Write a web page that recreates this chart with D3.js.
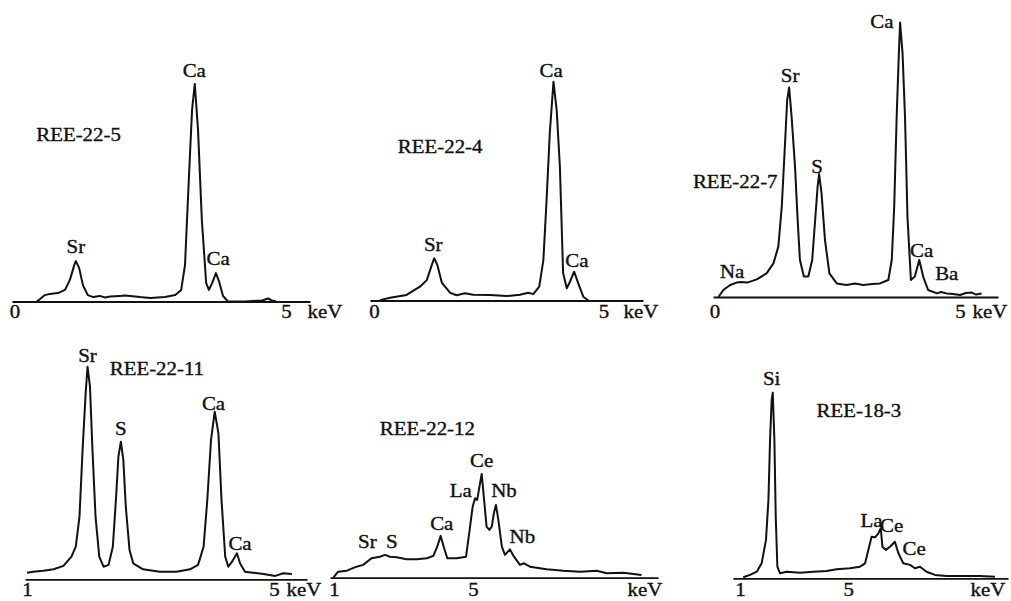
<!DOCTYPE html>
<html>
<head>
<meta charset="utf-8">
<script src="https://cdn.jsdelivr.net/npm/d3@7/dist/d3.min.js"></script>
<style>
  body { margin: 0; background: #fff; }
  svg { display: block; }
  text { font-family: "Liberation Serif", "Times New Roman", serif; font-size: 18px; fill: #111; stroke: #111; stroke-width: 0.35px; }
</style>
</head>
<body>
<svg id="chart" width="1011" height="601"></svg>
<script>
// EDS spectra, [keV, counts (arb.)]
const ree225 = [[0.41,0],[0.47,1.2],[0.56,3.2],[0.65,3.8],[0.8,4.2],[0.93,5.8],[1.02,10.8],[1.1,18.2],[1.13,20.2],
  [1.19,16.8],[1.26,8.2],[1.35,3.2],[1.45,2.2],[1.57,2.8],[1.67,2],[1.76,2.5],[1.94,2.8],[2.04,3],[2.13,2.8],
  [2.31,2.2],[2.5,1.8],[2.77,2.2],[2.96,3.2],[3.07,5.8],[3.14,18.2],[3.21,60.8],[3.27,95.8],[3.32,108.8],
  [3.38,85.8],[3.45,40.8],[3.53,9.2],[3.58,5.8],[3.64,9.2],[3.71,14.2],[3.77,9.8],[3.84,2.8],[3.93,0],
  [4.25,0],[4.56,0.5],[4.67,1.5],[4.74,0.5],[4.82,0]];

const ree224 = [[0.13,0.2],[0.35,1.4],[0.71,2.8],[1.0,6.9],[1.15,10.2],[1.26,17.8],[1.31,21.1],[1.38,17.8],
  [1.48,8.8],[1.66,3.8],[1.8,2.6],[1.98,3.6],[2.16,2.9],[2.53,2.8],[2.89,2.2],[3.18,2.9],[3.36,3.9],[3.47,3.2],
  [3.6,6.9],[3.69,20.2],[3.76,50.2],[3.83,83.8],[3.91,109.4],[3.98,95.2],[4.05,66.9],[4.12,13.8],[4.2,6.1],
  [4.27,9.4],[4.36,14.4],[4.45,8.6],[4.56,1.9],[4.67,0]];

const ree227 = [[0.08,0],[0.18,3.5],[0.32,6],[0.45,7.2],[0.54,7.5],[0.66,7.2],[0.74,7.8],[0.86,8.8],[1.06,11.8],
  [1.2,16.8],[1.3,25.2],[1.37,45.2],[1.44,78.5],[1.48,98.5],[1.52,104.8],[1.57,90.2],[1.64,65.2],[1.69,40.2],
  [1.74,18.5],[1.82,10.2],[1.91,10.2],[1.99,18.5],[2.05,38.5],[2.1,55.2],[2.13,61.5],[2.18,51.8],[2.25,28.5],
  [2.34,11.8],[2.49,6.8],[2.69,6],[2.86,6.8],[3.03,6],[3.21,6.5],[3.37,6.8],[3.54,8.5],[3.61,18.5],[3.66,45.2],
  [3.71,90.2],[3.75,118.5],[3.78,137.2],[3.83,121.8],[3.88,90.2],[3.93,40.2],[4.0,8.5],[4.08,10.2],[4.17,18.5],
  [4.25,10.2],[4.35,3.5],[4.53,1.8],[4.61,2.5],[4.73,1.8],[4.86,1.5],[5.0,1],[5.12,2],[5.24,2.2],[5.33,1.2],[5.44,1.8]];

const ree2211 = [[1.0,3.3],[1.1,3.8],[1.26,4.3],[1.43,5],[1.59,6.7],[1.72,11.3],[1.79,16.3],[1.85,31.3],[1.9,64.7],
  [1.95,93],[1.98,106.3],[2.02,96.3],[2.06,64.7],[2.11,31.3],[2.17,11.3],[2.24,6.3],[2.32,7.2],[2.39,16.3],
  [2.44,39.7],[2.48,61.3],[2.52,68.8],[2.56,59.7],[2.6,36.3],[2.66,14.7],[2.72,8],[2.88,5],[3.15,3.8],[3.42,3.8],
  [3.64,5],[3.77,7.2],[3.86,16.3],[3.92,39.7],[3.98,69.7],[4.04,83.8],[4.1,73],[4.15,39.7],[4.21,11.3],[4.26,6.3],
  [4.32,8.8],[4.4,13],[4.45,8],[4.53,3.8],[4.66,3.3],[4.83,2.7],[5.02,1.7],[5.15,3],[5.29,2.7]];

const ree2212 = [[0.98,0],[1.12,3],[1.37,3.5],[1.65,5.5],[1.84,6.4],[2.08,9.7],[2.32,10.5],[2.47,11.4],[2.61,10.5],
  [2.8,10.2],[3.09,9.2],[3.38,9.2],[3.67,9.7],[3.86,10.9],[3.97,15.5],[4.07,20.9],[4.17,14.7],[4.26,9.7],[4.53,9.7],
  [4.8,10.5],[4.89,22.2],[4.99,35.5],[5.06,39.7],[5.12,38.9],[5.17,43.9],[5.25,51.9],[5.32,38.9],[5.39,25.5],
  [5.47,23.9],[5.54,25.5],[5.6,32.2],[5.66,36.4],[5.73,28.9],[5.83,15.5],[5.92,11.4],[6.06,14.2],[6.18,10.5],
  [6.35,6.4],[6.47,7.2],[6.64,5.5],[7.12,4.2],[7.6,3.5],[8.08,3],[8.56,3.5],[8.85,2.2],[9.33,2.5],[9.85,1.4]];

const ree183 = [[1.12,0.5],[1.37,1.7],[1.62,3.3],[1.8,7.5],[1.96,19.2],[2.05,39.2],[2.11,69.2],[2.17,89.2],
  [2.21,92.8],[2.27,69.2],[2.32,30.8],[2.38,5.8],[2.48,2.5],[2.72,3.3],[3.22,2.8],[3.71,3.3],[4.2,3.7],[4.57,4.5],
  [5.06,5],[5.43,5.8],[5.62,7.5],[5.74,14.2],[5.86,20.8],[5.99,20.5],[6.11,22.5],[6.2,25],[6.26,15.8],[6.39,14.2],
  [6.54,15.8],[6.72,18.3],[6.85,12.5],[7.03,7.5],[7.28,6.7],[7.46,5],[7.65,5.8],[7.89,3.3],[8.2,1.7],[8.63,1.2],
  [9.25,1.2],[9.86,1.2],[10.42,0.8]];

// Peak labels: [text, keV, counts]
const labels225 = [["Ca",3.31,112.2],["Sr",1.13,24.2],["Ca",3.75,18.2]];
const labels224 = [["Ca",3.86,111.9],["Sr",1.29,24.9],["Ca",4.42,16.6]];
const labels227 = [["Ca",3.41,134.4],["Sr",1.54,107.7],["S",2.09,62],["Na",0.36,9.5],["Ca",4.22,20],["Ba",4.73,8.5]];
const labels2211 = [["Sr",1.98,108.8],["Ca",4.02,84.7],["S",2.52,72.2],["Ca",4.45,14.7]];
const labels2212 = [["Ce",5.25,55.5],["La",4.65,40.5],["Nb",5.89,40.5],["Ca",4.1,23.9],["Nb",6.42,17.2],["Sr",1.96,14.7],["S",2.66,14.7]];
const labels183 = [["Si",2.17,96.7],["La",5.86,25.8],["Ce",6.6,23.3],["Ce",7.43,11.7]];

// Sample names: [name, keV, counts] (left-aligned)
const sampleNames = [["REE-22-5",0.4,80.2],["REE-22-4",0.52,73.8],["REE-22-7",-0.44,54.5],
  ["REE-22-11",2.34,102.2],["REE-22-12",2.32,71.4],["REE-18-3",3.83,80.8]];

const ticksTop = [0, 5];
const ticksBottom = [1, 5];

// panel layout (pixels)
const panels = [
  { data: ree225, labels: labels225, ticks: ticksTop, tickPx: [14.5, 286], axisPx: [12, 310], base: 301.5, tickBase: 318, kevX: 325 },
  { data: ree224, labels: labels224, ticks: ticksTop, tickPx: [374, 603.5], axisPx: [370, 643], base: 300.5, tickBase: 318, kevX: 641 },
  { data: ree227, labels: labels227, ticks: ticksTop, tickPx: [714.5, 960], axisPx: [713, 998], base: 297, tickBase: 318, kevX: 990 },
  { data: ree2211, labels: labels2211, ticks: ticksBottom, tickPx: [27, 274], axisPx: [25, 307], base: 579.3, tickBase: 596, kevX: 304 },
  { data: ree2212, labels: labels2212, ticks: ticksBottom, tickPx: [334, 473], axisPx: [330, 658], base: 577.7, tickBase: 596, kevX: 645 },
  { data: ree183, labels: labels183, ticks: ticksBottom, tickPx: [740, 848.3], axisPx: [733, 1008], base: 578.3, tickBase: 596, kevX: 988 }
];

const svg = d3.select("#chart");
const STRETCH = 1.16; // scanned type is a little wide

function putText(g, str, x, y, anchor) {
  g.append("text")
    .attr("transform", `translate(${x},${y}) scale(${STRETCH},1)`)
    .attr("text-anchor", anchor)
    .text(str);
}

panels.forEach((p, i) => {
  const base = d3.scaleLinear().domain(p.ticks).range(p.tickPx);
  const x = d3.scaleLinear()
    .domain([base.invert(p.axisPx[0]), base.invert(p.axisPx[1])])
    .range(p.axisPx);
  const y = d3.scaleLinear().domain([0, 150]).range([p.base, p.base - 300]);

  const g = svg.append("g").attr("class", "panel");

  // axis
  const axis = d3.axisBottom(x)
    .tickValues(p.ticks)
    .tickSize(0)
    .tickPadding(p.tickBase - p.base - 12.8)
    .tickFormat(d3.format("d"));
  const ax = g.append("g")
    .attr("transform", `translate(0,${p.base})`)
    .call(axis);
  ax.select(".domain").attr("stroke", "#111").attr("stroke-width", 1.8);
  ax.selectAll(".tick text")
    .attr("fill", "#111")
    .attr("font-family", "Liberation Serif, Times New Roman, serif")
    .attr("font-size", 18)
    .attr("transform", `scale(${STRETCH},1)`);

  putText(g, "keV", p.kevX, p.tickBase, "middle");

  // spectrum
  const line = d3.line().x(d => x(d[0])).y(d => y(d[1]));
  g.append("path")
    .datum(p.data)
    .attr("fill", "none")
    .attr("stroke", "#111")
    .attr("stroke-width", 2)
    .attr("stroke-linejoin", "round")
    .attr("d", line);

  // element labels
  p.labels.forEach(l => putText(g, l[0], x(l[1]), y(l[2]), "middle"));

  // sample name
  const s = sampleNames[i];
  putText(g, s[0], x(s[1]), y(s[2]), "start");
});
</script>
</body>
</html>
